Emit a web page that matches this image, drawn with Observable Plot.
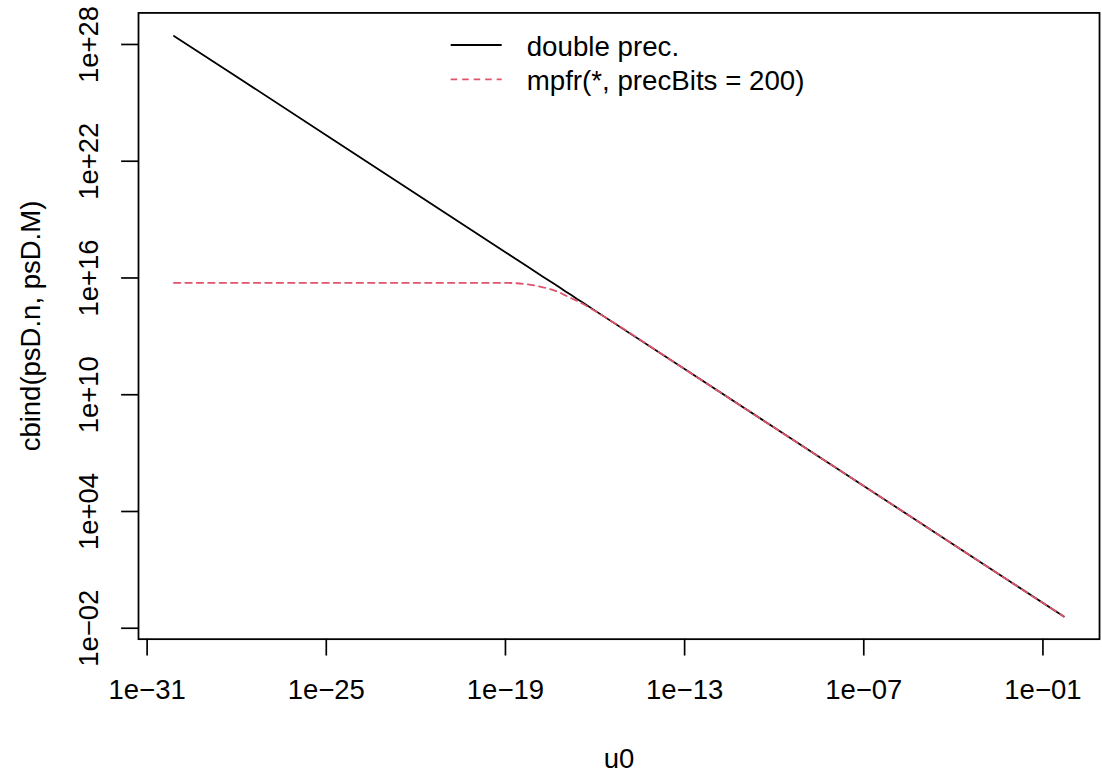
<!DOCTYPE html>
<html><head><meta charset="utf-8">
<script src="https://cdn.jsdelivr.net/npm/d3@7"></script>
<script src="https://cdn.jsdelivr.net/npm/@observablehq/plot@0.6"></script>
<style>
html,body{margin:0;padding:0;background:#fff;overflow:hidden;}
#wrap{position:relative;width:1102px;height:776px;overflow:hidden;background:#fff;}
#wrap svg{display:block;}
#legend{position:absolute;left:0;top:0;}
</style></head><body><div id="wrap"></div>
<script>
// ---- data ----
const u0 = [7.9e-31, 1e-28, 1e-25, 1e-22, 1e-20, 1e-19, 5e-19, 1.8e-18, 4e-18, 6.6e-18, 1e-17,
            1.6e-17, 2.5e-17, 4e-17, 1e-16, 1e-13, 1e-10, 1e-7, 1e-4, 1e-2, 0.5];
const psDn = [2.75e28, 2.2e26, 2.15e23, 2.13e20, 2.13e18, 2.12e17, 4.2e16, 1.16e16, 5.3e15, 3.2e15, 2.1e15,
              1.33e15, 8.4e14, 5.3e14, 2.1e14, 2.08e11, 2.05e8, 2.04e5, 2.03e2, 2.0, 0.04];
const psDM = [5.6e15, 5.6e15, 5.6e15, 5.6e15, 5.6e15, 5.6e15, 4.8e15, 3.3e15, 2.4e15, 1.78e15, 1.29e15,
              9.1e14, 6.6e14, 4.6e14, 2.0e14, 2.08e11, 2.05e8, 2.04e5, 2.03e2, 2.0, 0.04];
const xTicks = [1e-31, 1e-25, 1e-19, 1e-13, 1e-7, 1e-1];
const xTickLabels = ["1e\u221231", "1e\u221225", "1e\u221219", "1e\u221213", "1e\u221207", "1e\u221201"];
const yTicks = [1e-2, 1e4, 1e10, 1e16, 1e22, 1e28];
const yTickLabels = ["1e\u221202", "1e+04", "1e+10", "1e+16", "1e+22", "1e+28"];
const seriesNames = ["double prec.", "mpfr(*, precBits = 200)"];
const seriesColors = ["black", "#DF536B"];
const xTitle = "u0";
const yTitle = "cbind(psD.n, psD.M)";

const font = "'Liberation Sans', Arial, Helvetica, sans-serif";
const fs = 27.7;

const plot = Plot.plot({
  width: 1110, height: 776,
  marginLeft: 139, marginRight: 3, marginTop: 12.5, marginBottom: 132.7,
  style: {fontFamily: font, fontSize: fs + "px", background: "white", color: "black", overflow: "visible"},
  x: {type: "log", domain: [10 ** -31.289, 10 ** 0.895]},
  y: {type: "log", domain: [10 ** -2.561, 10 ** 29.622]},
  marks: [
    Plot.axisX(xTicks, {anchor: "bottom", tickSize: 17, tickFormat: () => "", strokeWidth: 1.7, label: null}),
    Plot.axisY(yTicks, {anchor: "left", tickSize: 17, tickFormat: () => "", strokeWidth: 1.7, label: null}),
    Plot.text(xTicks, {x: d => d, text: (d, i) => xTickLabels[i], frameAnchor: "bottom", dy: 60.2,
      lineAnchor: "bottom", textAnchor: "middle", fontSize: fs, fill: "black"}),
    Plot.text(yTicks, {y: d => d, text: (d, i) => yTickLabels[i], frameAnchor: "left", dx: -41,
      rotate: -90, lineAnchor: "bottom", textAnchor: "middle", fontSize: fs, fill: "black"}),
    Plot.text([xTitle], {frameAnchor: "bottom", dy: 129.7, lineAnchor: "bottom", textAnchor: "middle",
      fontSize: fs, fill: "black"}),
    Plot.text([yTitle], {frameAnchor: "left", dx: -99, rotate: -90, lineAnchor: "bottom", textAnchor: "middle",
      fontSize: fs, fill: "black"}),
    Plot.line(u0, {x: u0, y: psDn, stroke: seriesColors[0], strokeWidth: 1.8}),
    Plot.line(u0, {x: u0, y: psDM, stroke: seriesColors[1], strokeWidth: 1.8, strokeDasharray: "6.5,5",
      curve: "monotone-x"}),
    Plot.frame({stroke: "black", strokeWidth: 1.8})
  ]
});
const wrap = document.getElementById("wrap");
wrap.appendChild(plot);

// legend (R-style, no box)
const leg = d3.select(wrap).append("svg").attr("id", "legend")
  .attr("width", 1102).attr("height", 120)
  .style("font-family", font).style("font-size", fs + "px");
const legY = [45, 79.3];
seriesNames.forEach((name, i) => {
  leg.append("line").attr("x1", 450.7).attr("x2", 501.7).attr("y1", legY[i]).attr("y2", legY[i])
    .attr("stroke", seriesColors[i]).attr("stroke-width", 1.8)
    .attr("stroke-dasharray", i === 1 ? "6.5,5" : null);
  leg.append("text").attr("x", 526.7).attr("y", legY[i] + 10.8).attr("fill", "black").text(name);
});
</script>
</body></html>
